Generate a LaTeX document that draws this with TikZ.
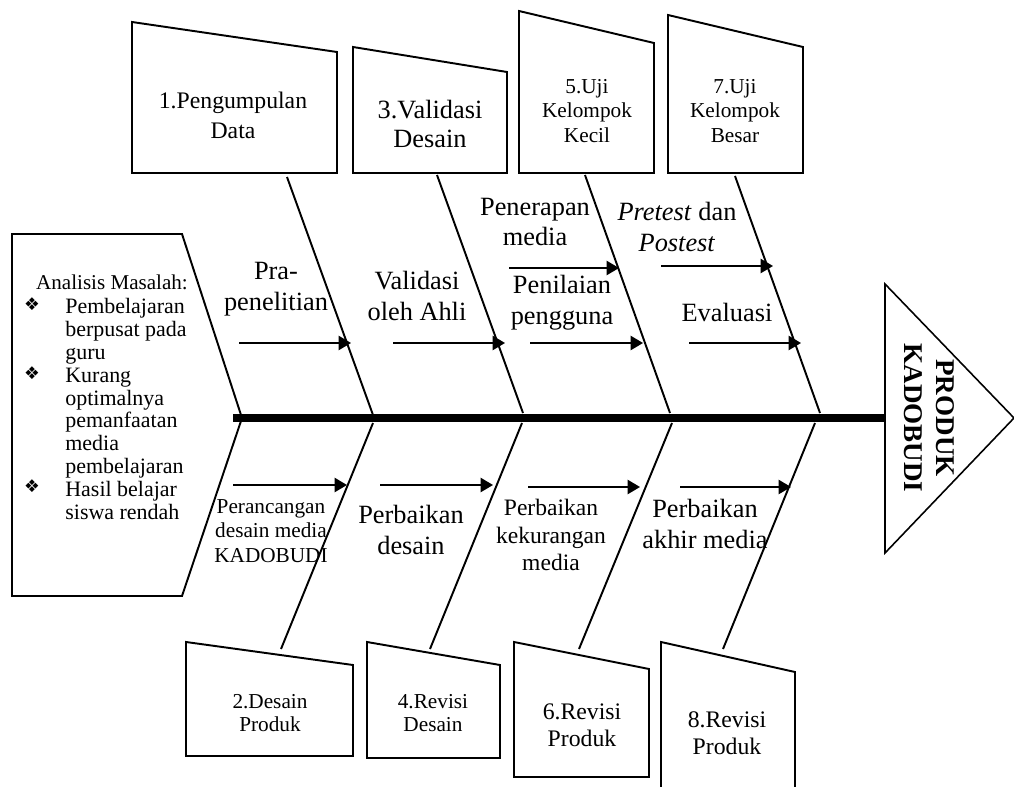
\documentclass[tikz,border=0pt]{standalone}
\usepackage{fontspec}
\setmainfont{Liberation Serif}
\newfontfamily\symfont{DejaVu Sans}
\usetikzlibrary{arrows.meta}

\begin{document}
\begin{tikzpicture}[x=0.02cm,y=-0.02cm,>={Triangle[length=7pt,width=8pt]},
  every node/.style={inner sep=0pt},
  edge/.style={line width=1.1pt},
  arr/.style={->,line width=1.2pt},
  big/.style={align=center,font=\fontsize{15}{17.5}\selectfont},
  mid/.style={align=center,font=\fontsize{13.5}{16.5}\selectfont},
  small/.style={align=center,font=\fontsize{12.1}{13.8}\selectfont},
  bul/.style={font=\symfont\fontsize{10}{10}\selectfont}]
\useasboundingbox (0,0) rectangle (1014,787);
% left box, head, spine
\draw[edge] (12,234)--(182,234)--(242,418)--(182,596)--(12,596)--cycle;
\draw[line width=0.9pt] (885,284)--(1014,418)--(885,553)--cycle;
\coordinate (s0) at (233,418);
\coordinate (s1) at (885,418);
\draw[line width=4.5pt] (s0)--(s1);
\node[rotate=-90,align=center,font=\fontsize{15.4}{18}\selectfont\bfseries] (head) at (929,418) {PRODUK\\KADOBUDI};
% problem list
\node[font=\fontsize{12}{13}\selectfont] (am) at (112,282) {Analisis Masalah:};
\node[anchor=west,align=left,font=\fontsize{12.5}{12.97}\selectfont] (list) at (65,409)
  {Pembelajaran\\berpusat pada\\guru\\Kurang\\optimalnya\\pemanfaatan\\media\\pembelajaran\\Hasil belajar\\siswa rendah};
\node[bul] (b1) at (32,304) {❖};
\node[bul] (b2) at (32,373) {❖};
\node[bul] (b3) at (32,486) {❖};
% upper boxes
\draw[edge] (132,22)--(337,52)--(337,173)--(132,173)--cycle;
\draw[edge] (353,47)--(507,72)--(507,173)--(353,173)--cycle;
\draw[edge] (519,11)--(654,43)--(654,173)--(519,173)--cycle;
\draw[edge] (668,15)--(803,47)--(803,173)--(668,173)--cycle;
\node[mid,font=\fontsize{13.5}{17}\selectfont] (k1) at (233,115) {1.Pengumpulan\\Data};
\node[big,font=\fontsize{15}{16}\selectfont] (k3) at (430,124) {3.Validasi\\Desain};
\node[small] (k5) at (587,111) {5.Uji\\Kelompok\\Kecil};
\node[small] (k7) at (735,111) {7.Uji\\Kelompok\\Besar};
% lower boxes
\draw[edge] (186,642)--(353,665)--(353,756)--(186,756)--cycle;
\draw[edge] (367,642)--(500,665)--(500,758)--(367,758)--cycle;
\draw[edge] (514,642)--(649,669)--(649,777)--(514,777)--cycle;
\draw[edge] (661,790)--(661,642)--(795,672)--(795,790);
\node[small,font=\fontsize{12.1}{13}\selectfont] (k2) at (270,713) {2.Desain\\Produk};
\node[small,font=\fontsize{12.1}{13}\selectfont] (k4) at (433,713) {4.Revisi\\Desain};
\node[mid,font=\fontsize{13.5}{15.4}\selectfont] (k6) at (582,725) {6.Revisi\\Produk};
\node[mid,font=\fontsize{13.5}{15.4}\selectfont] (k8) at (727,733) {8.Revisi\\Produk};
% upper bones
\coordinate (u1) at (287,177); \coordinate (v1) at (373,415);
\coordinate (u2) at (437,175); \coordinate (v2) at (523,413);
\coordinate (u3) at (585,175); \coordinate (v3) at (670,413);
\coordinate (u4) at (735,176); \coordinate (v4) at (820,413);
\draw[edge] (u1)--(v1); \draw[edge] (u2)--(v2);
\draw[edge] (u3)--(v3); \draw[edge] (u4)--(v4);
% lower bones
\coordinate (l1) at (373,423); \coordinate (m1) at (281,649);
\coordinate (l2) at (522,423); \coordinate (m2) at (430,649);
\coordinate (l3) at (672,423); \coordinate (m3) at (579,649);
\coordinate (l4) at (815,423); \coordinate (m4) at (723,649);
\draw[edge] (l1)--(m1); \draw[edge] (l2)--(m2);
\draw[edge] (l3)--(m3); \draw[edge] (l4)--(m4);
% upper arrows
\coordinate (a1) at (239,343); \coordinate (e1) at (351,343);
\coordinate (a2) at (393,343); \coordinate (e2) at (505,343);
\coordinate (a3) at (509,268); \coordinate (e3) at (619,268);
\coordinate (a4) at (530,343); \coordinate (e4) at (643,343);
\coordinate (a5) at (661,266); \coordinate (e5) at (773,266);
\coordinate (a6) at (689,343); \coordinate (e6) at (801,343);
\draw[arr] (a1)--(e1); \draw[arr] (a2)--(e2); \draw[arr] (a3)--(e3);
\draw[arr] (a4)--(e4); \draw[arr] (a5)--(e5); \draw[arr] (a6)--(e6);
% lower arrows
\coordinate (c1) at (233,485); \coordinate (d1) at (347,485);
\coordinate (c2) at (380,485); \coordinate (d2) at (493,485);
\coordinate (c3) at (528,487); \coordinate (d3) at (640,487);
\coordinate (c4) at (680,487); \coordinate (d4) at (791,487);
\draw[arr] (c1)--(d1); \draw[arr] (c2)--(d2);
\draw[arr] (c3)--(d3); \draw[arr] (c4)--(d4);
% labels
\node[big] (t1) at (276,289) {Pra-\\penelitian};
\node[big] (t2) at (417,296) {Validasi\\oleh Ahli};
\node[big] (t3) at (535,222) {Penerapan\\media};
\node[big] (t4) at (562,303) {Penilaian\\pengguna};
\node[big] (t5) at (677,227) {\textit{Pretest} dan\\\textit{Postest}};
\node[big] (t6) at (727,312) {Evaluasi};
\node[small,font=\fontsize{12.1}{14}\selectfont] (t7) at (271,531) {Perancangan\\desain media\\KADOBUDI};
\node[big] (t8) at (411,530) {Perbaikan\\desain};
\node[mid,font=\fontsize{13.4}{15.4}\selectfont] (t9) at (551,535) {Perbaikan\\kekurangan\\media};
\node[big] (t10) at (705,524) {Perbaikan\\akhir media};
\end{tikzpicture}
\end{document}
